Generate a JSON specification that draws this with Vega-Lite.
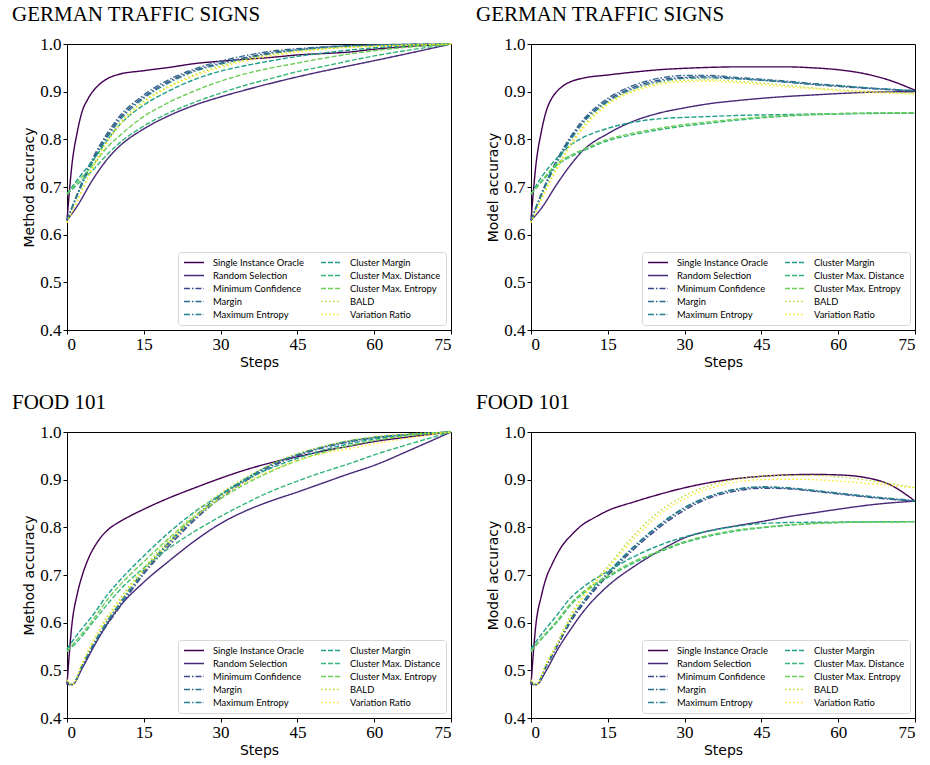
{
"$schema":"https://vega.github.io/schema/vega-lite/v6.json",
"background":"white",
"padding":{"left":11,"top":3,"right":5,"bottom":5},
"config":{
 "view":{"stroke":"black","strokeWidth":1},
 "axis":{"grid":false,"domainColor":"black","tickColor":"black","tickSize":4,"labelFont":"Liberation Serif","labelFontSize":17,"labelColor":"black","labelPadding":2,"titleFont":"DejaVu Sans","titleFontSize":14,"titleFontWeight":"normal","titleColor":"black","titlePadding":3},
 "legend":{"orient":"bottom-right","columns":2,"labelFont":"Lato","labelFontSize":9.4,"labelColor":"black","symbolType":"stroke","symbolSize":400,"symbolStrokeWidth":1.5,"fillColor":"white","strokeColor":"#d6d6d6","cornerRadius":3,"padding":5,"rowPadding":2,"columnPadding":16,"offset":5,"labelOffset":8,"clipHeight":11},
 "title":{"font":"Liberation Serif","fontSize":21,"fontWeight":"normal","color":"black","anchor":"start","frame":"group","dx":-55,"baseline":"alphabetic","offset":10},
 "line":{"strokeWidth":1.4,"interpolate":"monotone"}
},
"datasets":{
"names":[{"m":"A","name":"Single Instance Oracle"},{"m":"B","name":"Random Selection"},{"m":"C","name":"Minimum Confidence"},{"m":"D","name":"Margin"},{"m":"E","name":"Maximum Entropy"},{"m":"F","name":"Cluster Margin"},{"m":"G","name":"Cluster Max. Distance"},{"m":"H","name":"Cluster Max. Entropy"},{"m":"I","name":"BALD"},{"m":"J","name":"Variation Ratio"}],
"acc":[
{"p":1,"m":"A","x":0,"y":0.63},{"p":1,"m":"A","x":1,"y":0.75},{"p":1,"m":"A","x":2,"y":0.815},{"p":1,"m":"A","x":3,"y":0.86},{"p":1,"m":"A","x":4,"y":0.883},{"p":1,"m":"A","x":5,"y":0.9},{"p":1,"m":"A","x":6,"y":0.912},{"p":1,"m":"A","x":8,"y":0.928},{"p":1,"m":"A","x":10,"y":0.936},{"p":1,"m":"A","x":15,"y":0.944},{"p":1,"m":"A","x":20,"y":0.951},{"p":1,"m":"A","x":25,"y":0.959},{"p":1,"m":"A","x":30,"y":0.964},{"p":1,"m":"A","x":35,"y":0.968},{"p":1,"m":"A","x":40,"y":0.972},{"p":1,"m":"A","x":45,"y":0.977},{"p":1,"m":"A","x":50,"y":0.98},{"p":1,"m":"A","x":55,"y":0.983},{"p":1,"m":"A","x":60,"y":0.989},{"p":1,"m":"A","x":67,"y":0.995},{"p":1,"m":"A","x":75,"y":1},
{"p":1,"m":"B","x":0,"y":0.63},{"p":1,"m":"B","x":2,"y":0.66},{"p":1,"m":"B","x":5,"y":0.715},{"p":1,"m":"B","x":8,"y":0.76},{"p":1,"m":"B","x":10,"y":0.783},{"p":1,"m":"B","x":15,"y":0.822},{"p":1,"m":"B","x":20,"y":0.85},{"p":1,"m":"B","x":25,"y":0.872},{"p":1,"m":"B","x":30,"y":0.889},{"p":1,"m":"B","x":35,"y":0.904},{"p":1,"m":"B","x":40,"y":0.918},{"p":1,"m":"B","x":45,"y":0.931},{"p":1,"m":"B","x":50,"y":0.943},{"p":1,"m":"B","x":55,"y":0.954},{"p":1,"m":"B","x":60,"y":0.965},{"p":1,"m":"B","x":67,"y":0.981},{"p":1,"m":"B","x":75,"y":1},
{"p":1,"m":"C","x":0,"y":0.63},{"p":1,"m":"C","x":2,"y":0.683},{"p":1,"m":"C","x":5,"y":0.755},{"p":1,"m":"C","x":8,"y":0.81},{"p":1,"m":"C","x":10,"y":0.84},{"p":1,"m":"C","x":15,"y":0.889},{"p":1,"m":"C","x":20,"y":0.922},{"p":1,"m":"C","x":25,"y":0.945},{"p":1,"m":"C","x":30,"y":0.96},{"p":1,"m":"C","x":35,"y":0.972},{"p":1,"m":"C","x":40,"y":0.982},{"p":1,"m":"C","x":45,"y":0.988},{"p":1,"m":"C","x":50,"y":0.993},{"p":1,"m":"C","x":60,"y":0.998},{"p":1,"m":"C","x":75,"y":1},
{"p":1,"m":"D","x":0,"y":0.63},{"p":1,"m":"D","x":2,"y":0.686},{"p":1,"m":"D","x":5,"y":0.76},{"p":1,"m":"D","x":8,"y":0.815},{"p":1,"m":"D","x":10,"y":0.845},{"p":1,"m":"D","x":15,"y":0.893},{"p":1,"m":"D","x":20,"y":0.926},{"p":1,"m":"D","x":25,"y":0.948},{"p":1,"m":"D","x":30,"y":0.964},{"p":1,"m":"D","x":35,"y":0.976},{"p":1,"m":"D","x":40,"y":0.985},{"p":1,"m":"D","x":45,"y":0.99},{"p":1,"m":"D","x":50,"y":0.994},{"p":1,"m":"D","x":60,"y":0.998},{"p":1,"m":"D","x":75,"y":1},
{"p":1,"m":"E","x":0,"y":0.63},{"p":1,"m":"E","x":2,"y":0.682},{"p":1,"m":"E","x":5,"y":0.752},{"p":1,"m":"E","x":8,"y":0.806},{"p":1,"m":"E","x":10,"y":0.836},{"p":1,"m":"E","x":15,"y":0.886},{"p":1,"m":"E","x":20,"y":0.919},{"p":1,"m":"E","x":25,"y":0.943},{"p":1,"m":"E","x":30,"y":0.958},{"p":1,"m":"E","x":35,"y":0.97},{"p":1,"m":"E","x":40,"y":0.98},{"p":1,"m":"E","x":45,"y":0.987},{"p":1,"m":"E","x":50,"y":0.992},{"p":1,"m":"E","x":60,"y":0.997},{"p":1,"m":"E","x":75,"y":1},
{"p":1,"m":"F","x":0,"y":0.685},{"p":1,"m":"F","x":2,"y":0.715},{"p":1,"m":"F","x":5,"y":0.755},{"p":1,"m":"F","x":8,"y":0.8},{"p":1,"m":"F","x":10,"y":0.827},{"p":1,"m":"F","x":15,"y":0.872},{"p":1,"m":"F","x":20,"y":0.902},{"p":1,"m":"F","x":25,"y":0.926},{"p":1,"m":"F","x":30,"y":0.943},{"p":1,"m":"F","x":35,"y":0.955},{"p":1,"m":"F","x":40,"y":0.965},{"p":1,"m":"F","x":45,"y":0.974},{"p":1,"m":"F","x":50,"y":0.981},{"p":1,"m":"F","x":60,"y":0.992},{"p":1,"m":"F","x":75,"y":1},
{"p":1,"m":"G","x":0,"y":0.685},{"p":1,"m":"G","x":2,"y":0.705},{"p":1,"m":"G","x":5,"y":0.735},{"p":1,"m":"G","x":8,"y":0.77},{"p":1,"m":"G","x":10,"y":0.79},{"p":1,"m":"G","x":15,"y":0.828},{"p":1,"m":"G","x":20,"y":0.856},{"p":1,"m":"G","x":25,"y":0.878},{"p":1,"m":"G","x":30,"y":0.897},{"p":1,"m":"G","x":35,"y":0.914},{"p":1,"m":"G","x":40,"y":0.928},{"p":1,"m":"G","x":45,"y":0.942},{"p":1,"m":"G","x":50,"y":0.953},{"p":1,"m":"G","x":60,"y":0.975},{"p":1,"m":"G","x":75,"y":1},
{"p":1,"m":"H","x":0,"y":0.685},{"p":1,"m":"H","x":2,"y":0.71},{"p":1,"m":"H","x":5,"y":0.745},{"p":1,"m":"H","x":8,"y":0.785},{"p":1,"m":"H","x":10,"y":0.805},{"p":1,"m":"H","x":15,"y":0.848},{"p":1,"m":"H","x":20,"y":0.878},{"p":1,"m":"H","x":25,"y":0.902},{"p":1,"m":"H","x":30,"y":0.922},{"p":1,"m":"H","x":35,"y":0.938},{"p":1,"m":"H","x":40,"y":0.95},{"p":1,"m":"H","x":45,"y":0.96},{"p":1,"m":"H","x":50,"y":0.97},{"p":1,"m":"H","x":60,"y":0.986},{"p":1,"m":"H","x":75,"y":1},
{"p":1,"m":"I","x":0,"y":0.625},{"p":1,"m":"I","x":2,"y":0.672},{"p":1,"m":"I","x":5,"y":0.742},{"p":1,"m":"I","x":8,"y":0.8},{"p":1,"m":"I","x":10,"y":0.83},{"p":1,"m":"I","x":15,"y":0.88},{"p":1,"m":"I","x":20,"y":0.912},{"p":1,"m":"I","x":25,"y":0.936},{"p":1,"m":"I","x":30,"y":0.954},{"p":1,"m":"I","x":35,"y":0.968},{"p":1,"m":"I","x":40,"y":0.978},{"p":1,"m":"I","x":45,"y":0.985},{"p":1,"m":"I","x":50,"y":0.99},{"p":1,"m":"I","x":60,"y":0.996},{"p":1,"m":"I","x":75,"y":1},
{"p":1,"m":"J","x":0,"y":0.625},{"p":1,"m":"J","x":2,"y":0.67},{"p":1,"m":"J","x":5,"y":0.738},{"p":1,"m":"J","x":8,"y":0.796},{"p":1,"m":"J","x":10,"y":0.826},{"p":1,"m":"J","x":15,"y":0.877},{"p":1,"m":"J","x":20,"y":0.91},{"p":1,"m":"J","x":25,"y":0.933},{"p":1,"m":"J","x":30,"y":0.951},{"p":1,"m":"J","x":35,"y":0.965},{"p":1,"m":"J","x":40,"y":0.975},{"p":1,"m":"J","x":45,"y":0.983},{"p":1,"m":"J","x":50,"y":0.989},{"p":1,"m":"J","x":60,"y":0.995},{"p":1,"m":"J","x":75,"y":1},
{"p":2,"m":"A","x":0,"y":0.63},{"p":2,"m":"A","x":1,"y":0.75},{"p":2,"m":"A","x":2,"y":0.815},{"p":2,"m":"A","x":3,"y":0.86},{"p":2,"m":"A","x":4,"y":0.885},{"p":2,"m":"A","x":5,"y":0.9},{"p":2,"m":"A","x":6,"y":0.91},{"p":2,"m":"A","x":8,"y":0.922},{"p":2,"m":"A","x":10,"y":0.928},{"p":2,"m":"A","x":15,"y":0.935},{"p":2,"m":"A","x":20,"y":0.941},{"p":2,"m":"A","x":25,"y":0.946},{"p":2,"m":"A","x":30,"y":0.949},{"p":2,"m":"A","x":35,"y":0.951},{"p":2,"m":"A","x":40,"y":0.952},{"p":2,"m":"A","x":45,"y":0.952},{"p":2,"m":"A","x":50,"y":0.952},{"p":2,"m":"A","x":55,"y":0.95},{"p":2,"m":"A","x":60,"y":0.946},{"p":2,"m":"A","x":65,"y":0.938},{"p":2,"m":"A","x":70,"y":0.924},{"p":2,"m":"A","x":75,"y":0.903},
{"p":2,"m":"B","x":0,"y":0.63},{"p":2,"m":"B","x":2,"y":0.655},{"p":2,"m":"B","x":5,"y":0.705},{"p":2,"m":"B","x":8,"y":0.75},{"p":2,"m":"B","x":10,"y":0.775},{"p":2,"m":"B","x":15,"y":0.812},{"p":2,"m":"B","x":20,"y":0.838},{"p":2,"m":"B","x":25,"y":0.855},{"p":2,"m":"B","x":30,"y":0.866},{"p":2,"m":"B","x":35,"y":0.875},{"p":2,"m":"B","x":40,"y":0.881},{"p":2,"m":"B","x":45,"y":0.886},{"p":2,"m":"B","x":50,"y":0.89},{"p":2,"m":"B","x":55,"y":0.893},{"p":2,"m":"B","x":60,"y":0.896},{"p":2,"m":"B","x":67,"y":0.899},{"p":2,"m":"B","x":75,"y":0.9},
{"p":2,"m":"C","x":0,"y":0.63},{"p":2,"m":"C","x":2,"y":0.683},{"p":2,"m":"C","x":5,"y":0.752},{"p":2,"m":"C","x":8,"y":0.806},{"p":2,"m":"C","x":10,"y":0.835},{"p":2,"m":"C","x":15,"y":0.882},{"p":2,"m":"C","x":20,"y":0.909},{"p":2,"m":"C","x":25,"y":0.924},{"p":2,"m":"C","x":30,"y":0.93},{"p":2,"m":"C","x":35,"y":0.931},{"p":2,"m":"C","x":40,"y":0.928},{"p":2,"m":"C","x":45,"y":0.924},{"p":2,"m":"C","x":50,"y":0.92},{"p":2,"m":"C","x":55,"y":0.915},{"p":2,"m":"C","x":60,"y":0.911},{"p":2,"m":"C","x":67,"y":0.906},{"p":2,"m":"C","x":75,"y":0.901},
{"p":2,"m":"D","x":0,"y":0.63},{"p":2,"m":"D","x":2,"y":0.686},{"p":2,"m":"D","x":5,"y":0.756},{"p":2,"m":"D","x":8,"y":0.81},{"p":2,"m":"D","x":10,"y":0.839},{"p":2,"m":"D","x":15,"y":0.886},{"p":2,"m":"D","x":20,"y":0.913},{"p":2,"m":"D","x":25,"y":0.928},{"p":2,"m":"D","x":30,"y":0.934},{"p":2,"m":"D","x":35,"y":0.934},{"p":2,"m":"D","x":40,"y":0.93},{"p":2,"m":"D","x":45,"y":0.926},{"p":2,"m":"D","x":50,"y":0.922},{"p":2,"m":"D","x":55,"y":0.917},{"p":2,"m":"D","x":60,"y":0.913},{"p":2,"m":"D","x":67,"y":0.907},{"p":2,"m":"D","x":75,"y":0.902},
{"p":2,"m":"E","x":0,"y":0.63},{"p":2,"m":"E","x":2,"y":0.682},{"p":2,"m":"E","x":5,"y":0.75},{"p":2,"m":"E","x":8,"y":0.803},{"p":2,"m":"E","x":10,"y":0.832},{"p":2,"m":"E","x":15,"y":0.879},{"p":2,"m":"E","x":20,"y":0.906},{"p":2,"m":"E","x":25,"y":0.921},{"p":2,"m":"E","x":30,"y":0.928},{"p":2,"m":"E","x":35,"y":0.929},{"p":2,"m":"E","x":40,"y":0.927},{"p":2,"m":"E","x":45,"y":0.924},{"p":2,"m":"E","x":50,"y":0.92},{"p":2,"m":"E","x":55,"y":0.916},{"p":2,"m":"E","x":60,"y":0.912},{"p":2,"m":"E","x":67,"y":0.907},{"p":2,"m":"E","x":75,"y":0.902},
{"p":2,"m":"F","x":0,"y":0.685},{"p":2,"m":"F","x":2,"y":0.72},{"p":2,"m":"F","x":5,"y":0.76},{"p":2,"m":"F","x":8,"y":0.79},{"p":2,"m":"F","x":10,"y":0.803},{"p":2,"m":"F","x":15,"y":0.823},{"p":2,"m":"F","x":20,"y":0.836},{"p":2,"m":"F","x":25,"y":0.843},{"p":2,"m":"F","x":30,"y":0.846},{"p":2,"m":"F","x":35,"y":0.848},{"p":2,"m":"F","x":40,"y":0.85},{"p":2,"m":"F","x":50,"y":0.852},{"p":2,"m":"F","x":60,"y":0.854},{"p":2,"m":"F","x":75,"y":0.855},
{"p":2,"m":"G","x":0,"y":0.685},{"p":2,"m":"G","x":2,"y":0.71},{"p":2,"m":"G","x":5,"y":0.745},{"p":2,"m":"G","x":8,"y":0.765},{"p":2,"m":"G","x":10,"y":0.775},{"p":2,"m":"G","x":15,"y":0.797},{"p":2,"m":"G","x":20,"y":0.81},{"p":2,"m":"G","x":25,"y":0.82},{"p":2,"m":"G","x":30,"y":0.828},{"p":2,"m":"G","x":35,"y":0.834},{"p":2,"m":"G","x":40,"y":0.84},{"p":2,"m":"G","x":45,"y":0.845},{"p":2,"m":"G","x":50,"y":0.849},{"p":2,"m":"G","x":60,"y":0.853},{"p":2,"m":"G","x":75,"y":0.855},
{"p":2,"m":"H","x":0,"y":0.685},{"p":2,"m":"H","x":2,"y":0.712},{"p":2,"m":"H","x":5,"y":0.748},{"p":2,"m":"H","x":8,"y":0.768},{"p":2,"m":"H","x":10,"y":0.778},{"p":2,"m":"H","x":15,"y":0.8},{"p":2,"m":"H","x":20,"y":0.813},{"p":2,"m":"H","x":25,"y":0.823},{"p":2,"m":"H","x":30,"y":0.831},{"p":2,"m":"H","x":35,"y":0.837},{"p":2,"m":"H","x":40,"y":0.842},{"p":2,"m":"H","x":45,"y":0.847},{"p":2,"m":"H","x":50,"y":0.85},{"p":2,"m":"H","x":60,"y":0.854},{"p":2,"m":"H","x":75,"y":0.856},
{"p":2,"m":"I","x":0,"y":0.625},{"p":2,"m":"I","x":2,"y":0.675},{"p":2,"m":"I","x":5,"y":0.74},{"p":2,"m":"I","x":8,"y":0.795},{"p":2,"m":"I","x":10,"y":0.825},{"p":2,"m":"I","x":15,"y":0.876},{"p":2,"m":"I","x":20,"y":0.903},{"p":2,"m":"I","x":25,"y":0.918},{"p":2,"m":"I","x":30,"y":0.924},{"p":2,"m":"I","x":35,"y":0.925},{"p":2,"m":"I","x":40,"y":0.922},{"p":2,"m":"I","x":45,"y":0.918},{"p":2,"m":"I","x":50,"y":0.913},{"p":2,"m":"I","x":55,"y":0.908},{"p":2,"m":"I","x":60,"y":0.904},{"p":2,"m":"I","x":67,"y":0.9},{"p":2,"m":"I","x":75,"y":0.897},
{"p":2,"m":"J","x":0,"y":0.625},{"p":2,"m":"J","x":2,"y":0.672},{"p":2,"m":"J","x":5,"y":0.736},{"p":2,"m":"J","x":8,"y":0.79},{"p":2,"m":"J","x":10,"y":0.82},{"p":2,"m":"J","x":15,"y":0.873},{"p":2,"m":"J","x":20,"y":0.9},{"p":2,"m":"J","x":25,"y":0.915},{"p":2,"m":"J","x":30,"y":0.921},{"p":2,"m":"J","x":35,"y":0.922},{"p":2,"m":"J","x":40,"y":0.919},{"p":2,"m":"J","x":45,"y":0.915},{"p":2,"m":"J","x":50,"y":0.91},{"p":2,"m":"J","x":55,"y":0.906},{"p":2,"m":"J","x":60,"y":0.902},{"p":2,"m":"J","x":67,"y":0.898},{"p":2,"m":"J","x":75,"y":0.895},
{"p":3,"m":"A","x":0,"y":0.47},{"p":3,"m":"A","x":1,"y":0.6},{"p":3,"m":"A","x":2,"y":0.66},{"p":3,"m":"A","x":3,"y":0.7},{"p":3,"m":"A","x":4,"y":0.73},{"p":3,"m":"A","x":6,"y":0.77},{"p":3,"m":"A","x":8,"y":0.795},{"p":3,"m":"A","x":10,"y":0.81},{"p":3,"m":"A","x":12,"y":0.822},{"p":3,"m":"A","x":15,"y":0.838},{"p":3,"m":"A","x":20,"y":0.862},{"p":3,"m":"A","x":25,"y":0.883},{"p":3,"m":"A","x":30,"y":0.903},{"p":3,"m":"A","x":35,"y":0.921},{"p":3,"m":"A","x":40,"y":0.936},{"p":3,"m":"A","x":45,"y":0.948},{"p":3,"m":"A","x":50,"y":0.96},{"p":3,"m":"A","x":55,"y":0.97},{"p":3,"m":"A","x":60,"y":0.98},{"p":3,"m":"A","x":67,"y":0.99},{"p":3,"m":"A","x":75,"y":1},
{"p":3,"m":"B","x":0,"y":0.47},{"p":3,"m":"B","x":1,"y":0.47},{"p":3,"m":"B","x":3,"y":0.505},{"p":3,"m":"B","x":5,"y":0.545},{"p":3,"m":"B","x":8,"y":0.6},{"p":3,"m":"B","x":10,"y":0.63},{"p":3,"m":"B","x":15,"y":0.685},{"p":3,"m":"B","x":20,"y":0.73},{"p":3,"m":"B","x":25,"y":0.772},{"p":3,"m":"B","x":30,"y":0.808},{"p":3,"m":"B","x":35,"y":0.835},{"p":3,"m":"B","x":40,"y":0.856},{"p":3,"m":"B","x":45,"y":0.874},{"p":3,"m":"B","x":50,"y":0.893},{"p":3,"m":"B","x":55,"y":0.912},{"p":3,"m":"B","x":60,"y":0.93},{"p":3,"m":"B","x":67,"y":0.962},{"p":3,"m":"B","x":75,"y":1},
{"p":3,"m":"C","x":0,"y":0.475},{"p":3,"m":"C","x":1,"y":0.47},{"p":3,"m":"C","x":3,"y":0.508},{"p":3,"m":"C","x":5,"y":0.548},{"p":3,"m":"C","x":8,"y":0.598},{"p":3,"m":"C","x":10,"y":0.628},{"p":3,"m":"C","x":15,"y":0.702},{"p":3,"m":"C","x":20,"y":0.762},{"p":3,"m":"C","x":25,"y":0.816},{"p":3,"m":"C","x":30,"y":0.862},{"p":3,"m":"C","x":35,"y":0.898},{"p":3,"m":"C","x":40,"y":0.928},{"p":3,"m":"C","x":45,"y":0.95},{"p":3,"m":"C","x":50,"y":0.967},{"p":3,"m":"C","x":55,"y":0.979},{"p":3,"m":"C","x":60,"y":0.988},{"p":3,"m":"C","x":67,"y":0.995},{"p":3,"m":"C","x":75,"y":1},
{"p":3,"m":"D","x":0,"y":0.475},{"p":3,"m":"D","x":1,"y":0.47},{"p":3,"m":"D","x":3,"y":0.51},{"p":3,"m":"D","x":5,"y":0.55},{"p":3,"m":"D","x":8,"y":0.602},{"p":3,"m":"D","x":10,"y":0.632},{"p":3,"m":"D","x":15,"y":0.706},{"p":3,"m":"D","x":20,"y":0.767},{"p":3,"m":"D","x":25,"y":0.82},{"p":3,"m":"D","x":30,"y":0.866},{"p":3,"m":"D","x":35,"y":0.901},{"p":3,"m":"D","x":40,"y":0.931},{"p":3,"m":"D","x":45,"y":0.952},{"p":3,"m":"D","x":50,"y":0.968},{"p":3,"m":"D","x":55,"y":0.98},{"p":3,"m":"D","x":60,"y":0.988},{"p":3,"m":"D","x":67,"y":0.995},{"p":3,"m":"D","x":75,"y":1},
{"p":3,"m":"E","x":0,"y":0.475},{"p":3,"m":"E","x":1,"y":0.47},{"p":3,"m":"E","x":3,"y":0.512},{"p":3,"m":"E","x":5,"y":0.553},{"p":3,"m":"E","x":8,"y":0.606},{"p":3,"m":"E","x":10,"y":0.637},{"p":3,"m":"E","x":15,"y":0.71},{"p":3,"m":"E","x":20,"y":0.77},{"p":3,"m":"E","x":25,"y":0.823},{"p":3,"m":"E","x":30,"y":0.868},{"p":3,"m":"E","x":35,"y":0.903},{"p":3,"m":"E","x":40,"y":0.932},{"p":3,"m":"E","x":45,"y":0.953},{"p":3,"m":"E","x":50,"y":0.969},{"p":3,"m":"E","x":55,"y":0.981},{"p":3,"m":"E","x":60,"y":0.989},{"p":3,"m":"E","x":67,"y":0.995},{"p":3,"m":"E","x":75,"y":1},
{"p":3,"m":"F","x":0,"y":0.545},{"p":3,"m":"F","x":2,"y":0.575},{"p":3,"m":"F","x":5,"y":0.615},{"p":3,"m":"F","x":8,"y":0.66},{"p":3,"m":"F","x":10,"y":0.685},{"p":3,"m":"F","x":15,"y":0.74},{"p":3,"m":"F","x":20,"y":0.79},{"p":3,"m":"F","x":25,"y":0.833},{"p":3,"m":"F","x":30,"y":0.868},{"p":3,"m":"F","x":35,"y":0.9},{"p":3,"m":"F","x":40,"y":0.925},{"p":3,"m":"F","x":45,"y":0.945},{"p":3,"m":"F","x":50,"y":0.962},{"p":3,"m":"F","x":55,"y":0.975},{"p":3,"m":"F","x":60,"y":0.985},{"p":3,"m":"F","x":67,"y":0.994},{"p":3,"m":"F","x":75,"y":1},
{"p":3,"m":"G","x":0,"y":0.54},{"p":3,"m":"G","x":2,"y":0.56},{"p":3,"m":"G","x":5,"y":0.6},{"p":3,"m":"G","x":8,"y":0.64},{"p":3,"m":"G","x":10,"y":0.665},{"p":3,"m":"G","x":15,"y":0.715},{"p":3,"m":"G","x":20,"y":0.757},{"p":3,"m":"G","x":25,"y":0.792},{"p":3,"m":"G","x":30,"y":0.823},{"p":3,"m":"G","x":35,"y":0.851},{"p":3,"m":"G","x":40,"y":0.876},{"p":3,"m":"G","x":45,"y":0.897},{"p":3,"m":"G","x":50,"y":0.916},{"p":3,"m":"G","x":55,"y":0.933},{"p":3,"m":"G","x":60,"y":0.952},{"p":3,"m":"G","x":67,"y":0.975},{"p":3,"m":"G","x":75,"y":1},
{"p":3,"m":"H","x":0,"y":0.54},{"p":3,"m":"H","x":2,"y":0.565},{"p":3,"m":"H","x":5,"y":0.605},{"p":3,"m":"H","x":8,"y":0.65},{"p":3,"m":"H","x":10,"y":0.675},{"p":3,"m":"H","x":15,"y":0.728},{"p":3,"m":"H","x":20,"y":0.778},{"p":3,"m":"H","x":25,"y":0.823},{"p":3,"m":"H","x":30,"y":0.86},{"p":3,"m":"H","x":35,"y":0.892},{"p":3,"m":"H","x":40,"y":0.918},{"p":3,"m":"H","x":45,"y":0.94},{"p":3,"m":"H","x":50,"y":0.957},{"p":3,"m":"H","x":55,"y":0.971},{"p":3,"m":"H","x":60,"y":0.982},{"p":3,"m":"H","x":67,"y":0.993},{"p":3,"m":"H","x":75,"y":1},
{"p":3,"m":"I","x":0,"y":0.48},{"p":3,"m":"I","x":1,"y":0.47},{"p":3,"m":"I","x":3,"y":0.515},{"p":3,"m":"I","x":5,"y":0.56},{"p":3,"m":"I","x":8,"y":0.615},{"p":3,"m":"I","x":10,"y":0.645},{"p":3,"m":"I","x":15,"y":0.715},{"p":3,"m":"I","x":20,"y":0.775},{"p":3,"m":"I","x":25,"y":0.83},{"p":3,"m":"I","x":30,"y":0.872},{"p":3,"m":"I","x":35,"y":0.905},{"p":3,"m":"I","x":40,"y":0.933},{"p":3,"m":"I","x":45,"y":0.955},{"p":3,"m":"I","x":50,"y":0.97},{"p":3,"m":"I","x":55,"y":0.982},{"p":3,"m":"I","x":60,"y":0.99},{"p":3,"m":"I","x":67,"y":0.996},{"p":3,"m":"I","x":75,"y":1},
{"p":3,"m":"J","x":0,"y":0.48},{"p":3,"m":"J","x":1,"y":0.47},{"p":3,"m":"J","x":3,"y":0.515},{"p":3,"m":"J","x":5,"y":0.558},{"p":3,"m":"J","x":8,"y":0.61},{"p":3,"m":"J","x":10,"y":0.64},{"p":3,"m":"J","x":15,"y":0.71},{"p":3,"m":"J","x":20,"y":0.768},{"p":3,"m":"J","x":25,"y":0.822},{"p":3,"m":"J","x":30,"y":0.864},{"p":3,"m":"J","x":35,"y":0.895},{"p":3,"m":"J","x":40,"y":0.92},{"p":3,"m":"J","x":45,"y":0.94},{"p":3,"m":"J","x":50,"y":0.955},{"p":3,"m":"J","x":55,"y":0.965},{"p":3,"m":"J","x":60,"y":0.975},{"p":3,"m":"J","x":67,"y":0.988},{"p":3,"m":"J","x":75,"y":1},
{"p":4,"m":"A","x":0,"y":0.47},{"p":4,"m":"A","x":1,"y":0.6},{"p":4,"m":"A","x":2,"y":0.655},{"p":4,"m":"A","x":3,"y":0.695},{"p":4,"m":"A","x":4,"y":0.72},{"p":4,"m":"A","x":6,"y":0.76},{"p":4,"m":"A","x":8,"y":0.785},{"p":4,"m":"A","x":10,"y":0.805},{"p":4,"m":"A","x":12,"y":0.818},{"p":4,"m":"A","x":15,"y":0.835},{"p":4,"m":"A","x":20,"y":0.853},{"p":4,"m":"A","x":25,"y":0.869},{"p":4,"m":"A","x":30,"y":0.883},{"p":4,"m":"A","x":35,"y":0.894},{"p":4,"m":"A","x":40,"y":0.902},{"p":4,"m":"A","x":45,"y":0.907},{"p":4,"m":"A","x":50,"y":0.91},{"p":4,"m":"A","x":55,"y":0.911},{"p":4,"m":"A","x":60,"y":0.91},{"p":4,"m":"A","x":65,"y":0.905},{"p":4,"m":"A","x":70,"y":0.89},{"p":4,"m":"A","x":75,"y":0.855},
{"p":4,"m":"B","x":0,"y":0.47},{"p":4,"m":"B","x":1,"y":0.47},{"p":4,"m":"B","x":3,"y":0.5},{"p":4,"m":"B","x":5,"y":0.54},{"p":4,"m":"B","x":8,"y":0.59},{"p":4,"m":"B","x":10,"y":0.62},{"p":4,"m":"B","x":15,"y":0.677},{"p":4,"m":"B","x":20,"y":0.717},{"p":4,"m":"B","x":25,"y":0.75},{"p":4,"m":"B","x":30,"y":0.778},{"p":4,"m":"B","x":35,"y":0.793},{"p":4,"m":"B","x":40,"y":0.803},{"p":4,"m":"B","x":45,"y":0.812},{"p":4,"m":"B","x":50,"y":0.822},{"p":4,"m":"B","x":55,"y":0.83},{"p":4,"m":"B","x":60,"y":0.838},{"p":4,"m":"B","x":67,"y":0.848},{"p":4,"m":"B","x":75,"y":0.855},
{"p":4,"m":"C","x":0,"y":0.475},{"p":4,"m":"C","x":1,"y":0.47},{"p":4,"m":"C","x":3,"y":0.508},{"p":4,"m":"C","x":5,"y":0.548},{"p":4,"m":"C","x":8,"y":0.606},{"p":4,"m":"C","x":10,"y":0.636},{"p":4,"m":"C","x":15,"y":0.699},{"p":4,"m":"C","x":20,"y":0.753},{"p":4,"m":"C","x":25,"y":0.799},{"p":4,"m":"C","x":30,"y":0.836},{"p":4,"m":"C","x":35,"y":0.862},{"p":4,"m":"C","x":40,"y":0.876},{"p":4,"m":"C","x":45,"y":0.882},{"p":4,"m":"C","x":50,"y":0.881},{"p":4,"m":"C","x":55,"y":0.876},{"p":4,"m":"C","x":60,"y":0.87},{"p":4,"m":"C","x":67,"y":0.862},{"p":4,"m":"C","x":75,"y":0.855},
{"p":4,"m":"D","x":0,"y":0.475},{"p":4,"m":"D","x":1,"y":0.47},{"p":4,"m":"D","x":3,"y":0.51},{"p":4,"m":"D","x":5,"y":0.55},{"p":4,"m":"D","x":8,"y":0.61},{"p":4,"m":"D","x":10,"y":0.64},{"p":4,"m":"D","x":15,"y":0.703},{"p":4,"m":"D","x":20,"y":0.757},{"p":4,"m":"D","x":25,"y":0.803},{"p":4,"m":"D","x":30,"y":0.84},{"p":4,"m":"D","x":35,"y":0.865},{"p":4,"m":"D","x":40,"y":0.879},{"p":4,"m":"D","x":45,"y":0.884},{"p":4,"m":"D","x":50,"y":0.882},{"p":4,"m":"D","x":55,"y":0.877},{"p":4,"m":"D","x":60,"y":0.871},{"p":4,"m":"D","x":67,"y":0.863},{"p":4,"m":"D","x":75,"y":0.855},
{"p":4,"m":"E","x":0,"y":0.475},{"p":4,"m":"E","x":1,"y":0.47},{"p":4,"m":"E","x":3,"y":0.511},{"p":4,"m":"E","x":5,"y":0.552},{"p":4,"m":"E","x":8,"y":0.612},{"p":4,"m":"E","x":10,"y":0.642},{"p":4,"m":"E","x":15,"y":0.705},{"p":4,"m":"E","x":20,"y":0.759},{"p":4,"m":"E","x":25,"y":0.805},{"p":4,"m":"E","x":30,"y":0.842},{"p":4,"m":"E","x":35,"y":0.866},{"p":4,"m":"E","x":40,"y":0.88},{"p":4,"m":"E","x":45,"y":0.885},{"p":4,"m":"E","x":50,"y":0.883},{"p":4,"m":"E","x":55,"y":0.878},{"p":4,"m":"E","x":60,"y":0.872},{"p":4,"m":"E","x":67,"y":0.864},{"p":4,"m":"E","x":75,"y":0.856},
{"p":4,"m":"F","x":0,"y":0.545},{"p":4,"m":"F","x":2,"y":0.575},{"p":4,"m":"F","x":5,"y":0.615},{"p":4,"m":"F","x":8,"y":0.655},{"p":4,"m":"F","x":10,"y":0.673},{"p":4,"m":"F","x":15,"y":0.708},{"p":4,"m":"F","x":20,"y":0.738},{"p":4,"m":"F","x":25,"y":0.762},{"p":4,"m":"F","x":30,"y":0.78},{"p":4,"m":"F","x":35,"y":0.793},{"p":4,"m":"F","x":40,"y":0.802},{"p":4,"m":"F","x":45,"y":0.808},{"p":4,"m":"F","x":50,"y":0.81},{"p":4,"m":"F","x":60,"y":0.811},{"p":4,"m":"F","x":75,"y":0.812},
{"p":4,"m":"G","x":0,"y":0.54},{"p":4,"m":"G","x":2,"y":0.565},{"p":4,"m":"G","x":5,"y":0.6},{"p":4,"m":"G","x":8,"y":0.64},{"p":4,"m":"G","x":10,"y":0.66},{"p":4,"m":"G","x":15,"y":0.695},{"p":4,"m":"G","x":20,"y":0.725},{"p":4,"m":"G","x":25,"y":0.748},{"p":4,"m":"G","x":30,"y":0.768},{"p":4,"m":"G","x":35,"y":0.782},{"p":4,"m":"G","x":40,"y":0.792},{"p":4,"m":"G","x":45,"y":0.799},{"p":4,"m":"G","x":50,"y":0.804},{"p":4,"m":"G","x":55,"y":0.808},{"p":4,"m":"G","x":60,"y":0.81},{"p":4,"m":"G","x":75,"y":0.812},
{"p":4,"m":"H","x":0,"y":0.54},{"p":4,"m":"H","x":2,"y":0.567},{"p":4,"m":"H","x":5,"y":0.603},{"p":4,"m":"H","x":8,"y":0.643},{"p":4,"m":"H","x":10,"y":0.663},{"p":4,"m":"H","x":15,"y":0.698},{"p":4,"m":"H","x":20,"y":0.728},{"p":4,"m":"H","x":25,"y":0.75},{"p":4,"m":"H","x":30,"y":0.77},{"p":4,"m":"H","x":35,"y":0.784},{"p":4,"m":"H","x":40,"y":0.794},{"p":4,"m":"H","x":45,"y":0.8},{"p":4,"m":"H","x":50,"y":0.805},{"p":4,"m":"H","x":55,"y":0.808},{"p":4,"m":"H","x":60,"y":0.81},{"p":4,"m":"H","x":75,"y":0.812},
{"p":4,"m":"I","x":0,"y":0.48},{"p":4,"m":"I","x":1,"y":0.47},{"p":4,"m":"I","x":3,"y":0.515},{"p":4,"m":"I","x":5,"y":0.555},{"p":4,"m":"I","x":8,"y":0.62},{"p":4,"m":"I","x":10,"y":0.655},{"p":4,"m":"I","x":15,"y":0.718},{"p":4,"m":"I","x":20,"y":0.782},{"p":4,"m":"I","x":25,"y":0.833},{"p":4,"m":"I","x":30,"y":0.866},{"p":4,"m":"I","x":35,"y":0.888},{"p":4,"m":"I","x":40,"y":0.901},{"p":4,"m":"I","x":45,"y":0.907},{"p":4,"m":"I","x":50,"y":0.909},{"p":4,"m":"I","x":55,"y":0.909},{"p":4,"m":"I","x":60,"y":0.906},{"p":4,"m":"I","x":67,"y":0.897},{"p":4,"m":"I","x":75,"y":0.883},
{"p":4,"m":"J","x":0,"y":0.48},{"p":4,"m":"J","x":1,"y":0.47},{"p":4,"m":"J","x":3,"y":0.513},{"p":4,"m":"J","x":5,"y":0.552},{"p":4,"m":"J","x":8,"y":0.615},{"p":4,"m":"J","x":10,"y":0.65},{"p":4,"m":"J","x":15,"y":0.713},{"p":4,"m":"J","x":20,"y":0.775},{"p":4,"m":"J","x":25,"y":0.826},{"p":4,"m":"J","x":30,"y":0.86},{"p":4,"m":"J","x":35,"y":0.882},{"p":4,"m":"J","x":40,"y":0.895},{"p":4,"m":"J","x":45,"y":0.9},{"p":4,"m":"J","x":50,"y":0.901},{"p":4,"m":"J","x":55,"y":0.9},{"p":4,"m":"J","x":60,"y":0.897},{"p":4,"m":"J","x":67,"y":0.891},{"p":4,"m":"J","x":75,"y":0.883}
]},
"data":{"name":"acc"},
"columns":2,
"bounds":"flush",
"spacing":{"row":102,"column":80},
"resolve":{"legend":{"color":"independent","strokeDash":"independent"}},
"concat":[
 {"width":384,"height":286,"title":{"text":"GERMAN TRAFFIC SIGNS"},
  "transform":[{"filter":"datum.p==1"},{"lookup":"m","from":{"data":{"name":"names"},"key":"m","fields":["name"]}}],
  "mark":{"type":"line"},
  "encoding":{
   "x":{"field":"x","type":"quantitative","scale":{"domain":[0,75],"nice":false},"axis":{"values":[0,15,30,45,60,75],"title":"Steps"}},
   "y":{"field":"y","type":"quantitative","scale":{"domain":[0.4,1],"nice":false,"zero":false},"axis":{"values":[0.4,0.5,0.6,0.7,0.8,0.9,1.0],"format":".1f","title":"Method accuracy"}},
   "color":{"field":"name","type":"nominal","title":null,"scale":{"domain":["Single Instance Oracle","Random Selection","Minimum Confidence","Margin","Maximum Entropy","Cluster Margin","Cluster Max. Distance","Cluster Max. Entropy","BALD","Variation Ratio"],"range":["#440154","#482878","#3e4989","#31688e","#26828e","#1f9e89","#35b779","#6ece58","#b5de2b","#fde725"]}},
   "strokeDash":{"field":"name","type":"nominal","title":null,"scale":{"domain":["Single Instance Oracle","Random Selection","Minimum Confidence","Margin","Maximum Entropy","Cluster Margin","Cluster Max. Distance","Cluster Max. Entropy","BALD","Variation Ratio"],"range":[[1,0],[1,0],[6,2,1.5,2],[6,2,1.5,2],[6,2,1.5,2],[5,2],[5,2],[5,2],[1.5,2.5],[1.5,2.5]]}}
  }},
 {"width":384,"height":286,"title":{"text":"GERMAN TRAFFIC SIGNS"},
  "transform":[{"filter":"datum.p==2"},{"lookup":"m","from":{"data":{"name":"names"},"key":"m","fields":["name"]}}],
  "mark":{"type":"line"},
  "encoding":{
   "x":{"field":"x","type":"quantitative","scale":{"domain":[0,75],"nice":false},"axis":{"values":[0,15,30,45,60,75],"title":"Steps"}},
   "y":{"field":"y","type":"quantitative","scale":{"domain":[0.4,1],"nice":false,"zero":false},"axis":{"values":[0.4,0.5,0.6,0.7,0.8,0.9,1.0],"format":".1f","title":"Model accuracy"}},
   "color":{"field":"name","type":"nominal","title":null,"scale":{"domain":["Single Instance Oracle","Random Selection","Minimum Confidence","Margin","Maximum Entropy","Cluster Margin","Cluster Max. Distance","Cluster Max. Entropy","BALD","Variation Ratio"],"range":["#440154","#482878","#3e4989","#31688e","#26828e","#1f9e89","#35b779","#6ece58","#b5de2b","#fde725"]}},
   "strokeDash":{"field":"name","type":"nominal","title":null,"scale":{"domain":["Single Instance Oracle","Random Selection","Minimum Confidence","Margin","Maximum Entropy","Cluster Margin","Cluster Max. Distance","Cluster Max. Entropy","BALD","Variation Ratio"],"range":[[1,0],[1,0],[6,2,1.5,2],[6,2,1.5,2],[6,2,1.5,2],[5,2],[5,2],[5,2],[1.5,2.5],[1.5,2.5]]}}
  }},
 {"width":384,"height":286,"title":{"text":"FOOD 101"},
  "transform":[{"filter":"datum.p==3"},{"lookup":"m","from":{"data":{"name":"names"},"key":"m","fields":["name"]}}],
  "mark":{"type":"line"},
  "encoding":{
   "x":{"field":"x","type":"quantitative","scale":{"domain":[0,75],"nice":false},"axis":{"values":[0,15,30,45,60,75],"title":"Steps"}},
   "y":{"field":"y","type":"quantitative","scale":{"domain":[0.4,1],"nice":false,"zero":false},"axis":{"values":[0.4,0.5,0.6,0.7,0.8,0.9,1.0],"format":".1f","title":"Method accuracy"}},
   "color":{"field":"name","type":"nominal","title":null,"scale":{"domain":["Single Instance Oracle","Random Selection","Minimum Confidence","Margin","Maximum Entropy","Cluster Margin","Cluster Max. Distance","Cluster Max. Entropy","BALD","Variation Ratio"],"range":["#440154","#482878","#3e4989","#31688e","#26828e","#1f9e89","#35b779","#6ece58","#b5de2b","#fde725"]}},
   "strokeDash":{"field":"name","type":"nominal","title":null,"scale":{"domain":["Single Instance Oracle","Random Selection","Minimum Confidence","Margin","Maximum Entropy","Cluster Margin","Cluster Max. Distance","Cluster Max. Entropy","BALD","Variation Ratio"],"range":[[1,0],[1,0],[6,2,1.5,2],[6,2,1.5,2],[6,2,1.5,2],[5,2],[5,2],[5,2],[1.5,2.5],[1.5,2.5]]}}
  }},
 {"width":384,"height":286,"title":{"text":"FOOD 101"},
  "transform":[{"filter":"datum.p==4"},{"lookup":"m","from":{"data":{"name":"names"},"key":"m","fields":["name"]}}],
  "mark":{"type":"line"},
  "encoding":{
   "x":{"field":"x","type":"quantitative","scale":{"domain":[0,75],"nice":false},"axis":{"values":[0,15,30,45,60,75],"title":"Steps"}},
   "y":{"field":"y","type":"quantitative","scale":{"domain":[0.4,1],"nice":false,"zero":false},"axis":{"values":[0.4,0.5,0.6,0.7,0.8,0.9,1.0],"format":".1f","title":"Model accuracy"}},
   "color":{"field":"name","type":"nominal","title":null,"scale":{"domain":["Single Instance Oracle","Random Selection","Minimum Confidence","Margin","Maximum Entropy","Cluster Margin","Cluster Max. Distance","Cluster Max. Entropy","BALD","Variation Ratio"],"range":["#440154","#482878","#3e4989","#31688e","#26828e","#1f9e89","#35b779","#6ece58","#b5de2b","#fde725"]}},
   "strokeDash":{"field":"name","type":"nominal","title":null,"scale":{"domain":["Single Instance Oracle","Random Selection","Minimum Confidence","Margin","Maximum Entropy","Cluster Margin","Cluster Max. Distance","Cluster Max. Entropy","BALD","Variation Ratio"],"range":[[1,0],[1,0],[6,2,1.5,2],[6,2,1.5,2],[6,2,1.5,2],[5,2],[5,2],[5,2],[1.5,2.5],[1.5,2.5]]}}
  }}
]
}
